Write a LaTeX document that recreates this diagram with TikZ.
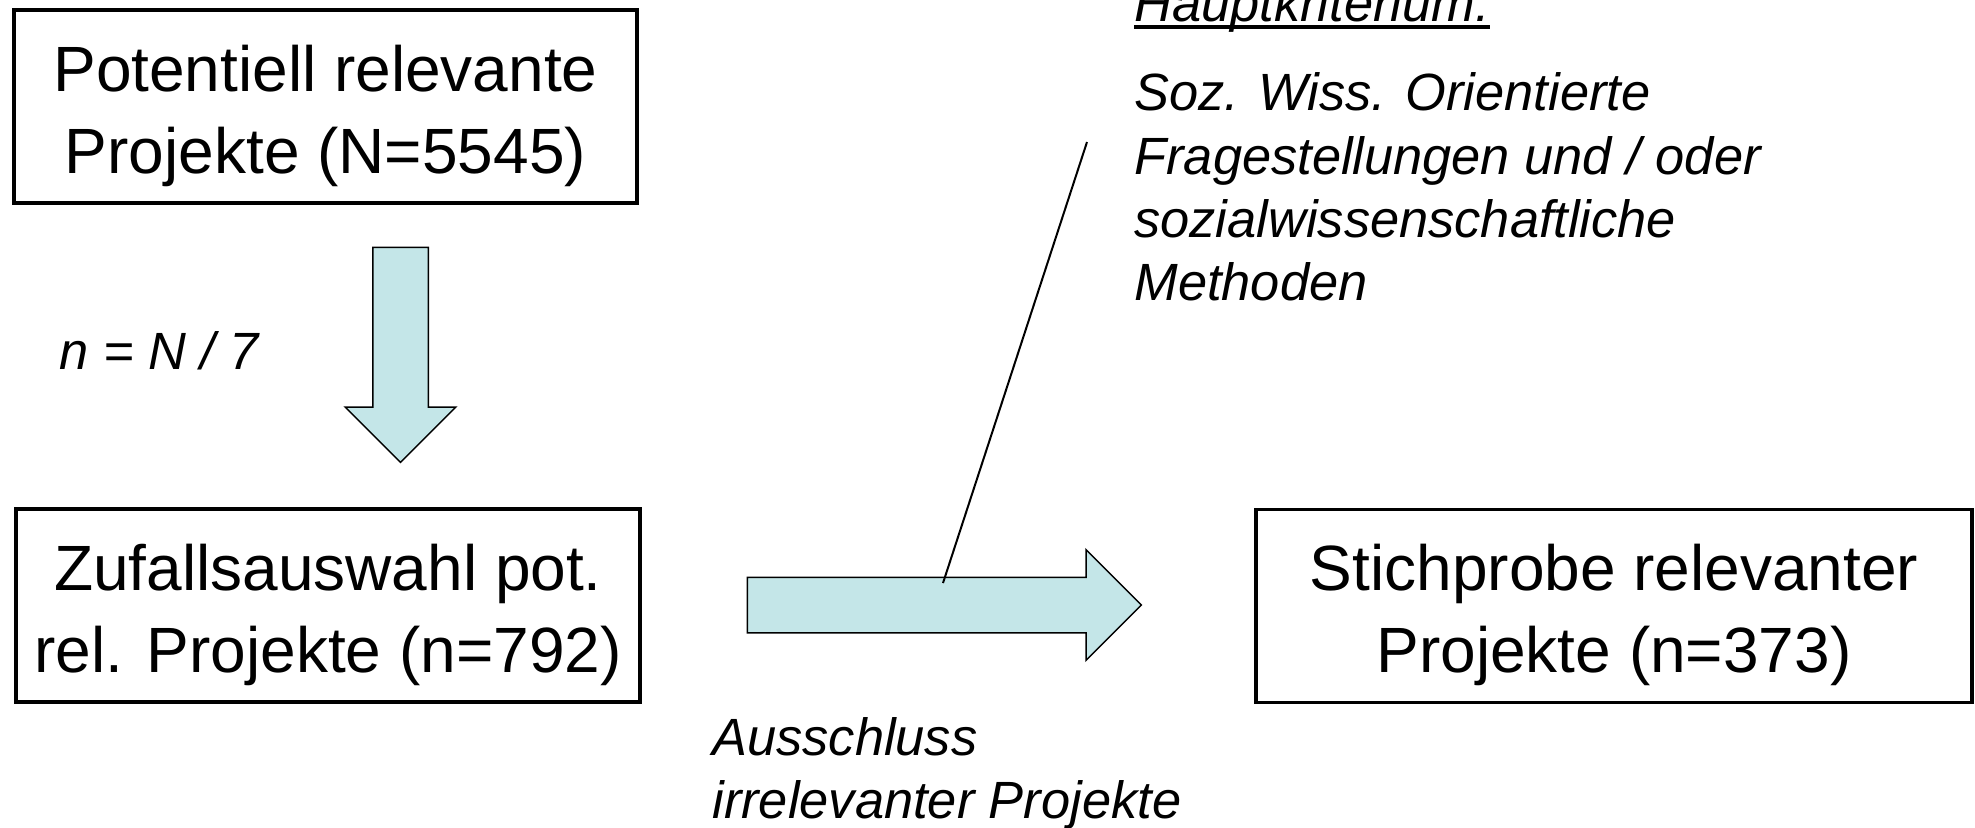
\documentclass[tikz,border=0pt]{standalone}
\usepackage{fontspec}
\setmainfont{Liberation Sans}
\usetikzlibrary{shapes.arrows,positioning}
\definecolor{arrowfill}{RGB}{196,230,232}
\tikzset{
  stage/.style={draw, line width=1.75pt, inner sep=0pt, minimum height=96.5pt},
  stagetext/.style={align=center, inner sep=0pt, yshift=-4.5pt,
    font=\fontsize{32}{41}\selectfont},
  bigarrow/.style={single arrow, draw, line width=0.75pt, fill=arrowfill,
    inner xsep=0pt, inner ysep=13.5pt, single arrow head extend=13.75pt,
    single arrow tip angle=90, minimum height=#1},
  note/.style={anchor=base west, inner sep=0pt,
    font=\fontsize{26.2}{32}\selectfont\itshape},
}
\begin{document}
\begin{tikzpicture}[x=0.5pt,y=-0.5pt]
    \useasboundingbox (0,0) rectangle (1975,827);
    % boxes
    \node[stage, minimum width=311.5pt] (pool) at (325.5,106.5) {};
    \node[stagetext] (poolText) at (pool.center) {Potentiell relevante\\Projekte (N=5545)};
    \node[stage, minimum width=312pt] (zufall) at (328,605.5) {};
    \node[stagetext] (zufallText) at (zufall.center) {Zufallsauswahl pot.\\rel. Projekte (n=792)};
    \node[stage, minimum width=358pt] (stich) at (1614,606) {};
    \node[stagetext] (stichText) at (stich.center) {Stichprobe relevanter\\Projekte (n=373)};
    % block arrows
    \node[bigarrow=107.5pt, rotate=-90] (down) at (400.5,341) {};
    \node[bigarrow=197pt] (right) at (930.5,605) {};
    % labels
    \node[note] (ratio) at (59,369) {n = N / 7};
    \node[note] (krit) at (1134,21) {Hauptkriterium:};
    \draw[line width=1.75pt] ([yshift=-3pt]krit.base west) -- ([yshift=-3pt]krit.base east);
    \node[note] (krit1) at (1134,110) {Soz. Wiss. Orientierte};
    \node[note] (krit2) at (1134,174) {Fragestellungen und / oder};
    \node[note] (krit3) at (1134,237) {sozialwissenschaftliche};
    \node[note] (krit4) at (1134,300) {Methoden};
    \node[note] (aus1) at (712,755) {Ausschluss};
    \node[note] (aus2) at (712,818) {irrelevanter Projekte};
    % pointer
    \coordinate (pinA) at (1087,142);
    \coordinate (pinB) at (943,583);
    \draw[line width=1pt] (pinA) -- (pinB);
\end{tikzpicture}
\end{document}
